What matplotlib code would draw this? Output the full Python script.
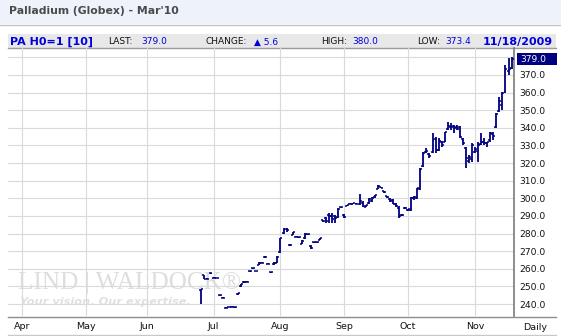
import matplotlib
matplotlib.use("Agg")
import matplotlib.pyplot as plt
import matplotlib.transforms as mtransforms
from matplotlib.patches import Rectangle

# trading-day index counted from Apr 1 2009
day = list(range(59, 162))
opens = [248.0, 256.2, 254.3, 257.5, 255.0, 254.9, 245.2, 243.5, 237.9, 238.3,
         238.4, 238.2, 245.5, 250.2, 252.3, 252.6, 258.5, 260.2, 258.8, 262.4,
         263.3, 266.5, 262.8, 258.1, 262.6, 263.4, 269.5, 280.3, 282.3, 273.6,
         279.4, 278.3, 278.1, 274.2, 277.3, 279.6, 273.0, 275.0, 275.2, 276.6,
         287.4, 288.8, 290.6, 290.2, 289.8, 289.3, 295.0, 290.6, 295.8, 296.9,
         297.0, 297.0, 296.8, 297.6, 295.3, 297.6, 298.6, 300.6, 305.2, 306.3,
         304.0, 301.2, 299.8, 299.3, 296.9, 294.5, 290.4, 294.4, 293.6, 293.6,
         300.1, 300.4, 305.2, 318.4, 326.1, 325.2, 326.0, 333.5, 327.5, 331.8,
         332.2, 339.2, 340.2, 341.0, 340.5, 340.4, 333.5, 328.6, 321.0, 322.4,
         326.5, 327.0, 331.0, 332.1, 331.4, 333.2, 336.6, 340.6, 349.4, 353.2,
         360.6, 372.0, 374.0]
highs = [248.5, 256.5, 254.6, 257.8, 255.2, 255.0, 245.4, 243.7, 238.1, 238.5,
         238.6, 238.4, 246.4, 251.5, 252.8, 252.8, 258.9, 260.6, 259.0, 263.6,
         263.7, 267.0, 263.0, 258.3, 263.6, 267.2, 277.6, 283.1, 283.2, 273.9,
         281.1, 278.5, 278.3, 276.1, 280.2, 279.8, 273.3, 275.3, 275.4, 277.6,
         287.7, 289.2, 291.7, 291.6, 290.6, 294.6, 295.3, 291.1, 296.3, 297.3,
         297.2, 297.3, 302.6, 298.2, 296.4, 300.1, 300.6, 302.1, 307.3, 306.5,
         304.3, 301.4, 300.2, 299.6, 297.2, 295.5, 291.0, 294.8, 294.2, 300.8,
         301.1, 306.1, 317.0, 326.1, 328.6, 325.8, 337.0, 334.6, 334.2, 332.4,
         337.8, 343.3, 343.0, 341.7, 341.7, 340.8, 334.1, 329.2, 324.7, 331.5,
         329.1, 332.2, 337.1, 334.2, 332.1, 337.7, 337.8, 348.4, 357.6, 360.4,
         375.8, 379.7, 380.0]
lows = [240.0, 254.0, 254.0, 257.2, 254.7, 254.6, 244.8, 243.2, 237.6, 238.1,
        238.2, 238.0, 245.3, 249.9, 252.1, 252.3, 258.3, 260.0, 258.5, 262.1,
        263.0, 266.3, 262.5, 257.8, 262.2, 263.0, 269.0, 280.0, 281.0, 273.2,
        279.0, 277.9, 277.7, 274.0, 277.0, 279.3, 271.1, 274.8, 274.9, 276.4,
        286.5, 286.0, 286.1, 286.0, 285.9, 289.0, 294.7, 289.0, 295.6, 296.7,
        296.8, 296.8, 296.0, 295.0, 295.0, 297.0, 298.0, 300.0, 305.0, 305.8,
        303.0, 300.0, 298.0, 296.5, 295.0, 288.9, 290.1, 294.1, 293.0, 293.0,
        299.0, 299.5, 304.7, 318.0, 325.7, 323.0, 325.7, 325.8, 327.0, 329.0,
        332.0, 339.0, 339.0, 337.0, 339.0, 334.0, 330.0, 317.1, 320.0, 320.6,
        325.7, 320.6, 330.0, 330.0, 329.0, 332.0, 333.0, 340.0, 349.0, 350.0,
        360.0, 370.0, 373.4]
closes = [248.3, 254.2, 254.4, 257.6, 254.9, 254.8, 245.0, 243.4, 237.8, 238.4,
          238.3, 238.2, 246.1, 251.2, 252.6, 252.4, 258.7, 260.4, 258.6, 263.3,
          263.5, 266.8, 262.7, 258.0, 263.2, 266.8, 277.2, 282.6, 281.8, 273.5,
          280.6, 278.1, 277.9, 275.6, 279.6, 279.5, 271.6, 275.1, 275.0, 277.4,
          287.0, 287.3, 290.2, 288.0, 288.6, 294.2, 295.1, 289.6, 296.1, 297.0,
          297.1, 297.0, 298.2, 295.4, 296.2, 299.6, 300.1, 301.6, 306.9, 306.0,
          303.5, 300.6, 298.5, 297.0, 295.4, 290.0, 290.6, 294.5, 293.8, 300.2,
          300.6, 305.6, 316.4, 325.6, 327.0, 324.1, 333.0, 327.4, 332.8, 330.1,
          337.4, 341.2, 340.5, 339.8, 339.6, 335.0, 331.2, 322.6, 323.6, 330.1,
          327.8, 330.5, 332.2, 331.3, 331.8, 336.8, 335.6, 347.6, 355.4, 359.8,
          373.4, 373.4, 379.0]

month_start = [0, 21, 41, 63, 85, 106, 127, 149]
month_names = ["Apr", "May", "Jun", "Jul", "Aug", "Sep", "Oct", "Nov"]
price_ticks = list(range(240, 390, 10))

navy = "#000080"

fig = plt.figure(figsize=(5.61, 3.36), dpi=100)

# background layer in pixel coordinates for the header / frame
bg = fig.add_axes([0, 0, 1, 1])
bg.set_xlim(0, 561)
bg.set_ylim(336, 0)
bg.axis("off")
bg.add_patch(Rectangle((0, 0), 561, 24, fc="#eef2fb", ec="none"))
bg.plot([0, 561], [24.5, 24.5], color="#c4c4c4", lw=1)
bg.text(9, 11, "Palladium (Globex) - Mar'10", fontsize=7.8, fontweight="bold",
        color="#4a4a4a", va="center", ha="left")

bg.add_patch(Rectangle((8, 34), 548, 14, fc="#e8e8e8", ec="none"))
bg.plot([8, 556], [48, 48], color="#9a9a9a", lw=1)
bg.text(10, 41.5, "PA H0=1 [10]", fontsize=8, fontweight="bold", color="#0000dd",
        va="center", ha="left")
for lx, lab, vx, val in [(108, "LAST:", 141, "379.0"),
                         (206, "CHANGE:", 254, "\u25b2 5.6"),
                         (321, "HIGH:", 352, "380.0"),
                         (417, "LOW:", 445, "373.4")]:
    bg.text(lx, 42, lab, fontsize=6.5, color="#111111", va="center", ha="left")
    bg.text(vx, 42, val, fontsize=6.5, color="#0000dd", va="center", ha="left")
bg.text(553, 41.5, "11/18/2009", fontsize=8, fontweight="bold", color="#0000dd",
        va="center", ha="right")

bg.plot([8, 556], [316.5, 316.5], color="#8c8c8c", lw=1)
bg.plot([8, 556], [334.5, 334.5], color="#c8c8c8", lw=1)
bg.text(535, 327, "Daily", fontsize=6.8, color="#111111", va="center", ha="center")

# watermark
bg.text(18, 283, "LIND | WALDOCK\u00ae", fontsize=18.2, family="Liberation Serif",
        color="#dedede", va="center", ha="left", zorder=0)
bg.text(20, 302, "Your vision. Our expertise.", fontsize=8.2, style="italic",
        fontweight="bold", color="#e0e0e0", va="center", ha="left", zorder=0)

# price axes
ax = fig.add_axes([8 / 561, 20 / 336, 506 / 561, 268 / 336])
ax.patch.set_alpha(0)
ax.set_xlim(-4.6, 161.8)
ax.set_ylim(233.2, 385.3)

for m in month_start:
    ax.axvline(m, color="#dadada", lw=0.8, zorder=1)
for p in price_ticks:
    ax.axhline(p, color="#dadada", lw=0.8, zorder=1)

ax.vlines(day, lows, highs, color=navy, lw=1.3, zorder=3)
ax.hlines(opens, [d - 0.65 for d in day], day, color=navy, lw=1.1, zorder=3)
ax.hlines(closes, day, [d + 0.65 for d in day], color=navy, lw=1.1, zorder=3)

ax.yaxis.tick_right()
ax.set_yticks(price_ticks)
ax.set_yticklabels([f"{p:.1f}" if p < 380 else "" for p in price_ticks])
ax.tick_params(axis="y", length=0, pad=4, labelsize=6.6, labelcolor="#111111")
ax.set_xticks(month_start)
ax.set_xticklabels(month_names)
ax.tick_params(axis="x", length=0, pad=4, labelsize=6.8, labelcolor="#111111")

for s in ["left", "top", "bottom"]:
    ax.spines[s].set_visible(False)
ax.spines["right"].set_color("#7a7a7a")
ax.spines["right"].set_linewidth(1.2)

# last price marker
blend = mtransforms.blended_transform_factory(ax.transAxes, ax.transData)
ax.add_patch(Rectangle((1.006, closes[-1] - 3.2), 0.079, 6.4, transform=blend,
                       fc=navy, ec="none", clip_on=False, zorder=5))
ax.text(1.012, closes[-1], f"{closes[-1]:.1f}", transform=blend, fontsize=6.6,
        color="white", va="center", ha="left", zorder=6)

fig.savefig("out.png", dpi=100)
